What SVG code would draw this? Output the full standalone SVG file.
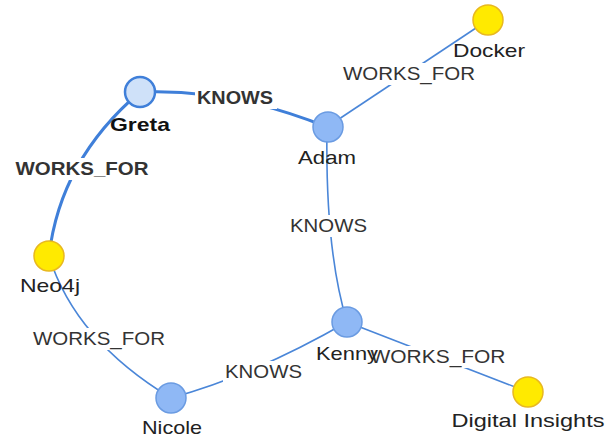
<svg xmlns="http://www.w3.org/2000/svg" width="610" height="442" viewBox="0 0 610 442">
<style>
.e{fill:none;stroke:#4a86d8;stroke-width:1.6}
.eb{fill:none;stroke:#3f7fd9;stroke-width:3}
.bg{fill:#fff}
.el{font-family:"Liberation Sans",Arial,sans-serif;font-size:19px;fill:#333;text-anchor:middle}
.elb{font-family:"Liberation Sans",Arial,sans-serif;font-size:19px;font-weight:bold;fill:#333;text-anchor:middle}
.nl{font-family:"Liberation Sans",Arial,sans-serif;font-size:19px;fill:#222;text-anchor:middle}
.nlb{font-family:"Liberation Sans",Arial,sans-serif;font-size:19px;font-weight:bold;fill:#111;text-anchor:middle}
.p{fill:#8fb8f5;stroke:#6a9be2;stroke-width:1.5}
.ps{fill:#cfe1f9;stroke:#3f7fd9;stroke-width:2.5}
.c{fill:#ffea00;stroke:#e8b820;stroke-width:1.5}
</style>
<rect width="610" height="442" fill="#fff"/>
<g id="connectors">
<path class="eb" d="M140,92 Q230,88 327,127"/>
<path class="eb" d="M140,92 Q60,160 49,256"/>
<path class="e" d="M327,127 L488,20"/>
<path class="e" d="M327,127 Q325,250 347,322"/>
<path class="e" d="M49,256 Q75,340 171,398"/>
<path class="e" d="M171,398 Q255,375 347,322"/>
<path class="e" d="M347,322 L528,392"/>
<rect class="bg" x="195" y="87" width="82" height="22"/>
<text class="elb" x="235" y="104" textLength="76" lengthAdjust="spacingAndGlyphs">KNOWS</text>
<rect class="bg" x="13" y="158" width="137" height="22"/>
<text class="elb" x="82" y="175" textLength="133" lengthAdjust="spacingAndGlyphs">WORKS_FOR</text>
<rect class="bg" x="341" y="63" width="136" height="22"/>
<text class="el" x="409" y="80" textLength="132" lengthAdjust="spacingAndGlyphs">WORKS_FOR</text>
<rect class="bg" x="288" y="215" width="81" height="22"/>
<text class="el" x="328.5" y="232" textLength="77" lengthAdjust="spacingAndGlyphs">KNOWS</text>
<rect class="bg" x="31" y="328" width="136" height="22"/>
<text class="el" x="99" y="345" textLength="132" lengthAdjust="spacingAndGlyphs">WORKS_FOR</text>
<rect class="bg" x="223" y="361" width="81" height="22"/>
<text class="el" x="263.5" y="378" textLength="77" lengthAdjust="spacingAndGlyphs">KNOWS</text>
<rect class="bg" x="372" y="346" width="135" height="22"/>
<text class="el" x="438" y="363" textLength="135" lengthAdjust="spacingAndGlyphs">WORKS_FOR</text>
</g>
<g id="greta"><circle class="ps" cx="140" cy="92" r="15"/><text class="nlb" x="140" y="131" textLength="60" lengthAdjust="spacingAndGlyphs">Greta</text></g>
<g id="adam"><circle class="p" cx="328" cy="127" r="15"/><text class="nl" x="327" y="164" textLength="58" lengthAdjust="spacingAndGlyphs">Adam</text></g>
<g id="docker"><circle class="c" cx="488" cy="20" r="15"/><text class="nl" x="489" y="57" textLength="72" lengthAdjust="spacingAndGlyphs">Docker</text></g>
<g id="neo4j"><circle class="c" cx="49" cy="256" r="15"/><text class="nl" x="50" y="292" textLength="60" lengthAdjust="spacingAndGlyphs">Neo4j</text></g>
<g id="nicole"><circle class="p" cx="171" cy="398" r="15"/><text class="nl" x="172" y="434" textLength="60" lengthAdjust="spacingAndGlyphs">Nicole</text></g>
<g id="kenny"><circle class="p" cx="347" cy="322" r="15"/><text class="nl" x="347" y="360" textLength="62" lengthAdjust="spacingAndGlyphs">Kenny</text></g>
<g id="digital-insights"><circle class="c" cx="528" cy="392" r="15"/><text class="nl" x="528" y="427" textLength="153" lengthAdjust="spacingAndGlyphs">Digital Insights</text></g>
</svg>
